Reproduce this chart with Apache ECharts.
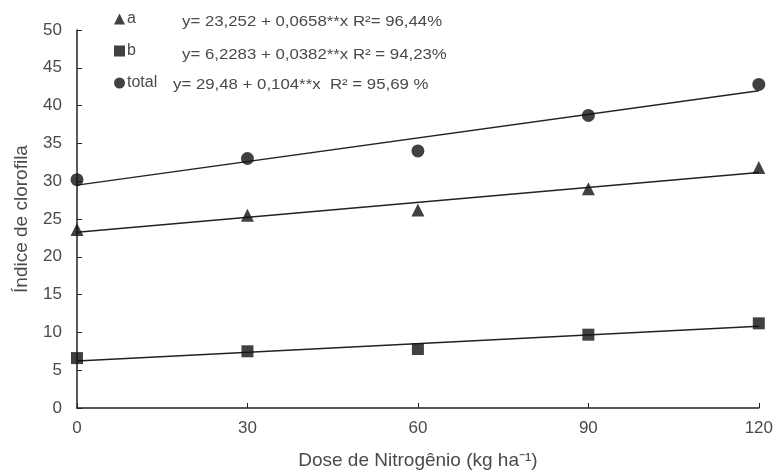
<!DOCTYPE html>
<html>
<head>
<meta charset="utf-8">
<script src="https://cdn.jsdelivr.net/npm/echarts@6/dist/echarts.min.js"></script>
<style>
html,body{margin:0;padding:0;background:#fff;}
#c{width:776px;height:475px;}
</style>
</head>
<body>
<div id="c"></div>
<script>
// Data
var doses = [0, 30, 60, 90, 120];
var valuesA = [23.6, 25.5, 26.2, 29.0, 31.8];
var valuesB = [6.6, 7.5, 7.8, 9.7, 11.2];
var valuesTotal = [30.2, 33.0, 34.0, 38.7, 42.8];
// fitted regression line endpoints (x = 0 and x = 120)
var fitX = [0, 120];
var fitA = [23.252, 31.148];
var fitB = [6.228, 10.812];
var fitTotal = [29.48, 41.96];
var xTicks = [0, 30, 60, 90, 120];
var seriesNames = ['a', 'b', 'total'];
var equations = [
  'y= 23,252 + 0,0658**x R\u00b2= 96,44%',
  'y= 6,2283 + 0,0382**x R\u00b2 = 94,23%',
  'y= 29,48 + 0,104**x  R\u00b2 = 95,69 %'
];

function pairs(xs, ys) { return xs.map(function (x, i) { return [x, ys[i]]; }); }

var FONT = '"Liberation Sans", Arial, sans-serif';
var TXT = '#4a4a4a';
var INK = '#111';

var chart = echarts.init(document.getElementById('c'), null, {renderer: 'canvas'});
var lineStyle = {color: '#222', width: 1.5};
chart.setOption({
  backgroundColor: '#fff',
  animation: false,
  textStyle: {fontFamily: FONT},
  grid: {left: 77, right: 16, top: 30, bottom: 63.5, containLabel: false},
  legend: {
    orient: 'vertical', left: 114, top: 11, itemGap: 16,
    itemWidth: 11, itemHeight: 11, padding: 0,
    textStyle: {fontFamily: FONT, fontSize: 16, lineHeight: 16, color: TXT, padding: [0, 0, 0, -3]},
    data: [
      {name: seriesNames[0], icon: 'triangle'},
      {name: seriesNames[1], icon: 'rect'},
      {name: seriesNames[2], icon: 'circle'}
    ]
  },
  xAxis: {
    type: 'value', min: 0, max: 120, interval: 30,
    name: 'Dose de Nitrog\u00eanio (kg ha\u207b\u00b9)',
    nameLocation: 'middle', nameGap: 43,
    nameTextStyle: {fontFamily: FONT, fontSize: 19, color: TXT},
    axisLine: {lineStyle: {color: '#222', width: 1.5}},
    axisTick: {inside: true, length: 5, lineStyle: {color: '#222'}},
    axisLabel: {fontFamily: FONT, fontSize: 17, color: TXT, margin: 12,
      formatter: function (v) { return xTicks.indexOf(v) >= 0 ? String(v) : ''; }},
    splitLine: {show: false}
  },
  yAxis: {
    type: 'value', min: 0, max: 50, interval: 5,
    name: '\u00cdndice de clorofila',
    nameLocation: 'middle', nameGap: 46, nameRotate: 90,
    nameTextStyle: {fontFamily: FONT, fontSize: 19, color: TXT},
    axisLine: {show: true, lineStyle: {color: '#222', width: 1.5}},
    axisTick: {show: true, inside: true, length: 5, lineStyle: {color: '#222'}},
    axisLabel: {fontFamily: FONT, fontSize: 17, color: TXT, margin: 15},
    splitLine: {show: false}
  },
  series: [
    {type: 'line', data: pairs(fitX, fitA), symbol: 'none', lineStyle: lineStyle, silent: true, z: 2},
    {type: 'line', data: pairs(fitX, fitB), symbol: 'none', lineStyle: lineStyle, silent: true, z: 2},
    {type: 'line', data: pairs(fitX, fitTotal), symbol: 'none', lineStyle: lineStyle, silent: true, z: 2},
    {name: seriesNames[0], type: 'scatter', symbol: 'triangle', symbolSize: 13,
      itemStyle: {color: INK}, data: pairs(doses, valuesA), z: 3},
    {name: seriesNames[1], type: 'scatter', symbol: 'rect', symbolSize: 12,
      itemStyle: {color: INK}, data: pairs(doses, valuesB), z: 3},
    {name: seriesNames[2], type: 'scatter', symbol: 'circle', symbolSize: 13,
      itemStyle: {color: INK}, data: pairs(doses, valuesTotal), z: 3}
  ],
  graphic: [
    {type: 'text', left: 182, top: 15, scaleX: 1.2, style: {text: equations[0], font: '14px ' + FONT, fill: TXT}},
    {type: 'text', left: 182, top: 48, scaleX: 1.2, style: {text: equations[1], font: '14px ' + FONT, fill: TXT}},
    {type: 'text', left: 173, top: 78, scaleX: 1.2, style: {text: equations[2], font: '14px ' + FONT, fill: TXT}}
  ]
});
</script>
</body>
</html>
